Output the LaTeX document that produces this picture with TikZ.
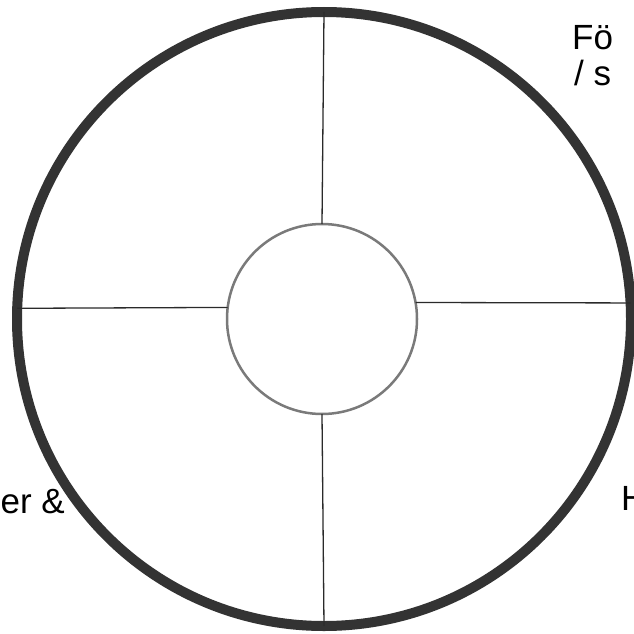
\documentclass[tikz,border=0pt]{standalone}
\usepackage{xcolor}
\usepackage{fontspec}
\setmainfont{Liberation Sans}
\usepackage{tikz}

\definecolor{rimgray}{HTML}{333333}
\definecolor{hubgray}{HTML}{7A7A7A}
\definecolor{spokegray}{HTML}{2A2A2A}

\tikzset{
    rim/.style={draw=rimgray, line width=10pt, circle, inner sep=0pt, outer sep=0pt, minimum size=614pt},
    hub/.style={draw=hubgray, line width=2.5pt, circle, inner sep=0pt, outer sep=0pt, minimum size=190pt},
    spoke/.style={draw=spokegray, line width=1.3pt},
    label/.style={font=\fontsize{35}{42}\selectfont, inner sep=0pt}
}

\begin{document}
\begin{tikzpicture}[x=1pt, y=-1pt]
    \useasboundingbox (0,0) rectangle (633,634);
    \node[label, anchor=base west] (topline) at (572,50) {Fö};
    \node[label, anchor=base west] (secondline) at (574,85) {/ s};
    \node[label, anchor=base east] (leftside) at (65,513) {er \&};
    \node[label, anchor=base west] (rightside) at (621,510) {H};
    \node[rim] (wheel) at (324,319) {};
    \node[hub] (core) at (322,319) {};
    \draw[spoke] (core.north) -- (wheel.north);
    \draw[spoke] (core.south) -- (wheel.south);
    \draw[spoke] (core.173) -- (wheel.178);
    \draw[spoke] (core.10) -- (wheel.3);
\end{tikzpicture}
\end{document}
